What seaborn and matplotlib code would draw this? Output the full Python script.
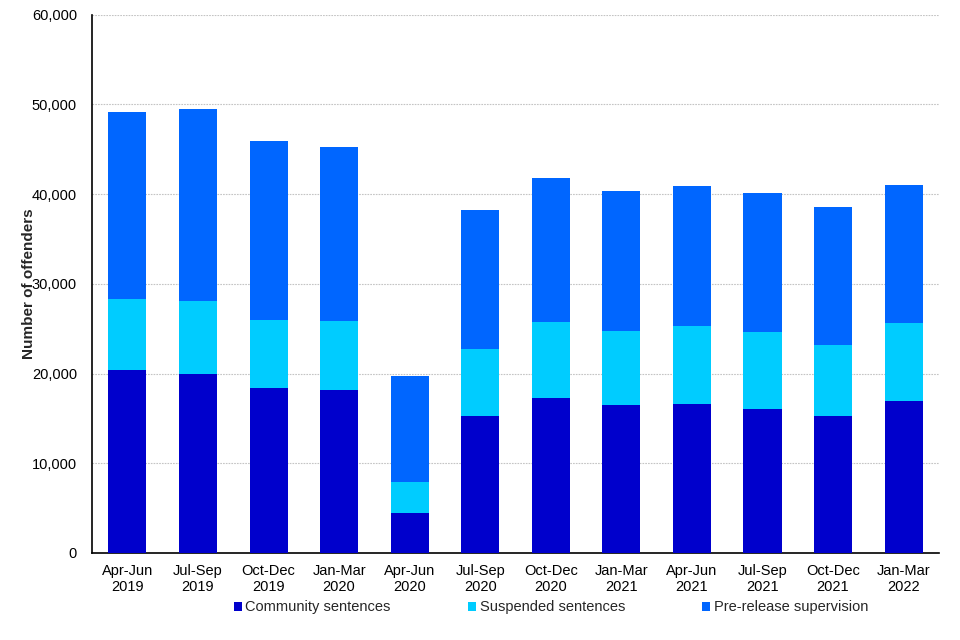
import numpy as np
import pandas as pd
import matplotlib
matplotlib.use("Agg")
import matplotlib.pyplot as plt
import seaborn as sns
from matplotlib.ticker import FuncFormatter
from matplotlib.patches import Patch

quarters = ["Apr-Jun\n2019", "Jul-Sep\n2019", "Oct-Dec\n2019", "Jan-Mar\n2020",
            "Apr-Jun\n2020", "Jul-Sep\n2020", "Oct-Dec\n2020", "Jan-Mar\n2021",
            "Apr-Jun\n2021", "Jul-Sep\n2021", "Oct-Dec\n2021", "Jan-Mar\n2022"]
community = [20370, 19920, 18370, 18140, 4480, 15260, 17260, 16480, 16590, 16030, 15260, 16920]
suspended = [7890, 8220, 7550, 7670, 3440, 7440, 8440, 8220, 8670, 8560, 7890, 8670]
prerelease = [20890, 21330, 20000, 19450, 11780, 15560, 16110, 15670, 15670, 15560, 15450, 15440]

series_names = ["Community sentences", "Suspended sentences", "Pre-release supervision"]
colors = ["#0000CC", "#00CCFF", "#0066FF"]

df = pd.DataFrame({"quarter": quarters, "community": community,
                   "suspended": suspended, "prerelease": prerelease})
df["level2"] = df["community"] + df["suspended"]
df["total"] = df["level2"] + df["prerelease"]

sns.set_style("white")
plt.rcParams["font.family"] = ["Liberation Sans", "DejaVu Sans"]

fig = plt.figure(figsize=(9.6, 6.4), dpi=100)
ax = fig.add_axes([0.096, 0.136, 0.882, 0.841])

# stacked bars: draw the tallest first, then overlay the lower layers
for col, c in [("total", colors[2]), ("level2", colors[1]), ("community", colors[0])]:
    sns.barplot(data=df, x="quarter", y=col, color=c, width=0.54,
                saturation=1, linewidth=0, edgecolor="none", ax=ax, zorder=3)

ax.set_ylim(0, 60000)
ax.set_xlim(-0.5, len(quarters) - 0.5)
ax.set_yticks(np.arange(0, 60001, 10000))
ax.yaxis.set_major_formatter(FuncFormatter(lambda v, p: f"{int(v):,}"))
ax.yaxis.grid(True, color="#c4c4c4", linestyle=(0, (1.5, 1)), linewidth=0.8, zorder=0)
ax.set_axisbelow(True)

for s in ["top", "right"]:
    ax.spines[s].set_visible(False)
ax.spines["left"].set_color("black")
ax.spines["bottom"].set_color("black")
ax.spines["left"].set_linewidth(1.2)
ax.spines["bottom"].set_linewidth(1.2)
ax.tick_params(axis="both", length=0, labelsize=10.5, colors="black")
ax.tick_params(axis="x", pad=8)
ax.tick_params(axis="y", pad=11)

ax.set_xlabel("")
ax.set_ylabel("Number of offenders", fontsize=11, fontweight="bold")
ax.yaxis.set_label_coords(-0.066, 0.5)

handles = [Patch(facecolor=c, edgecolor="none") for c in colors]
fig.legend(handles, series_names, loc="center", bbox_to_anchor=(0.574, 0.051),
           ncol=3, frameon=False, fontsize=10.5, handlelength=0.55, handleheight=0.55,
           handletextpad=0.25, columnspacing=5.3)

fig.savefig("out.png", dpi=100)
